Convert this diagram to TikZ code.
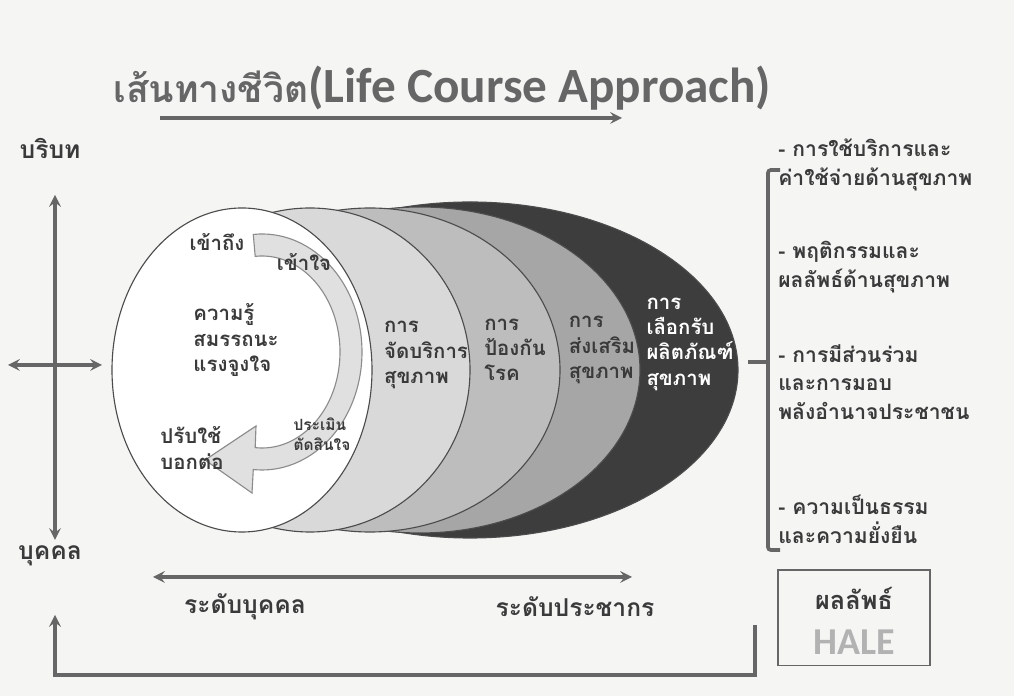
\documentclass[tikz,border=0pt]{standalone}
\usepackage{fontspec}
\setmainfont{Carlito}
\newfontfamily\thaifont[Script=Thai]{Loma}
\usepackage{tikz}
\usetikzlibrary{arrows}
\usetikzlibrary{calc}
\usetikzlibrary{positioning}
\definecolor{fond}{HTML}{F5F5F4}
\definecolor{gristexte}{HTML}{3A3A3A}
\definecolor{grisfleche}{HTML}{666666}
\definecolor{couchea}{HTML}{D9D9D9}
\definecolor{coucheb}{HTML}{BDBDBD}
\definecolor{couchec}{HTML}{A6A6A6}
\definecolor{couched}{HTML}{3D3D3D}
\tikzstyle{texte}=[font=\thaifont\bfseries\fontsize{14.5}{18}\selectfont,
        text=gristexte,align=left,inner sep=0pt]
\tikzstyle{blanc}=[texte,text=white]
\tikzstyle{petit}=[texte,font=\thaifont\bfseries\fontsize{11}{14}\selectfont]
\tikzstyle{droite}=[texte,anchor=west,font=\thaifont\bfseries\fontsize{15}{20.5}\selectfont]
\tikzstyle{grand}=[texte,font=\thaifont\bfseries\fontsize{17.5}{20}\selectfont]
\tikzstyle{couche}=[draw=black!70,line width=0.8pt]
\tikzstyle{suite}=[->,>=stealth,line width=2.6pt,draw=grisfleche]
\tikzstyle{doublefl}=[<->,>=stealth,line width=2.6pt,draw=grisfleche]
\tikzstyle{cadre}=[draw=grisfleche,line width=1.4pt,minimum width=3.8cm,minimum height=2.375cm]

\begin{document}
\begin{tikzpicture}[x=0.025cm,y=0.025cm]
\fill[fond] (0,0) rectangle (1014,696);
\useasboundingbox (0,0) rectangle (1014,696);
%couches
\draw[couche,fill=couched] (470,326) ellipse [x radius=268,y radius=168];
\draw[couche,fill=couchec] (420,326) ellipse [x radius=220,y radius=163];
\draw[couche,fill=coucheb] (370,326) ellipse [x radius=190,y radius=162];
\draw[couche,fill=couchea] (310,326) ellipse [x radius=160,y radius=162];
\draw[couche,fill=white] (242,326) ellipse [x radius=130,y radius=162];
\coordinate (c) at (262,344);
\draw[draw=black!45,line width=0.8pt,fill=black!12]
  ($(c)+(95:100 and 118)$) arc[start angle=95,end angle=-95,x radius=100,y radius=118]
  -- (252,203) -- (205,236) -- (256,270)
  -- ($(c)+(-95:78 and 96)$) arc[start angle=-95,end angle=95,x radius=78,y radius=96] -- cycle;
%textes du cercle
\node[texte] (a) at (217,454) {เข้าถึง};
\node[texte] (b) at (304,434) {เข้าใจ};
\node[texte] (k) at (236,356) {ความรู้\\สมรรถนะ\\แรงจูงใจ};
\node[petit] (e) at (322,262) {ประเมิน\\ตัดสินใจ};
\node[texte] (p) at (192,248) {ปรับใช้\\บอกต่อ};
\node[texte] (l1) at (426,341) {การ\\จัดบริการ\\สุขภาพ};
\node[texte] (l2) at (515,346) {การ\\ป้องกัน\\โรค};
\node[texte] (l3) at (602,346) {การ\\ส่งเสริม\\สุขภาพ};
\node[blanc] (l4) at (690,352) {การ\\เลือกรับ\\ผลิตภัณฑ์\\สุขภาพ};
%titre
\node[inner sep=0pt,anchor=west,text=grisfleche,font=\bfseries\fontsize{35}{40}\selectfont] (titre) at (113,608)
  {{\thaifont\fontsize{26.5}{30}\selectfont เส้นทางชีวิต}(Life Course Approach)};
\coordinate (t1) at (160,578);
\coordinate (t2) at (622,578);
\draw[suite] (t1) -- (t2);
%axes
\node[grand] (ctx) at (50,548) {บริบท};
\node[grand] (ind) at (50,140) {บุคคล};
\coordinate (v1) at (55,501);
\coordinate (v2) at (55,156);
\coordinate (h1) at (8,331);
\coordinate (h2) at (102,331);
\draw[doublefl] (v1) -- (v2);
\draw[doublefl] (h1) -- (h2);
\coordinate (n1) at (153,119);
\coordinate (n2) at (632,119);
\draw[doublefl] (n1) -- (n2);
\node[grand] (ni) at (245,89) {ระดับบุคคล};
\node[grand] (np) at (575,89) {ระดับประชากร};
%resultats
\draw[line width=2.6pt,draw=grisfleche,rounded corners=2pt] (780,526) -- (768,526) -- (768,146) -- (780,146);
\draw[line width=2.6pt,draw=grisfleche] (748,334) -- (768,334);
\node[droite] (r1) at (778,531) {- การใช้บริการและ\\ค่าใช้จ่ายด้านสุขภาพ};
\node[droite] (r2) at (778,429) {- พฤติกรรมและ\\ผลลัพธ์ด้านสุขภาพ};
\node[droite] (r3) at (778,314) {- การมีส่วนร่วม\\และการมอบ\\พลังอำนาจประชาชน};
\node[droite] (r4) at (778,177) {- ความเป็นธรรม\\และความยั่งยืน};
\node[cadre] (hale) at (854,78) {};
\node[grand,font=\thaifont\bfseries\fontsize{18}{20}\selectfont] (res) at (854,98) {ผลลัพธ์};
\node[inner sep=0pt,text=black!30,font=\bfseries\fontsize{27}{30}\selectfont] (h) at (854,54) {HALE};
\coordinate (f1) at (755,71);
\coordinate (f0) at (755,21);
\coordinate (f2) at (55,81);
\draw[suite] (f1) -- (f0) -| (f2);
\end{tikzpicture}
\end{document}
